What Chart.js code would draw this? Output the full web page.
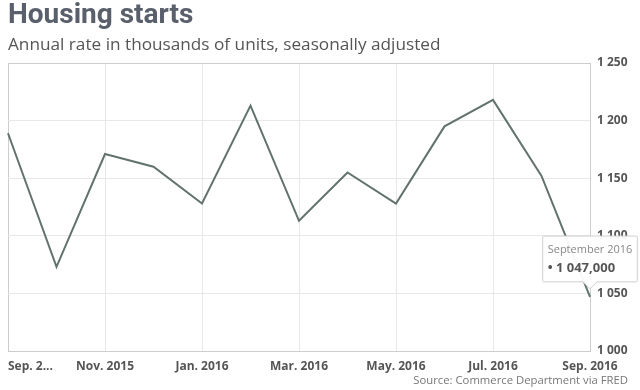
<!DOCTYPE html>
<html>
<head>
<meta charset="utf-8">
<script src="https://cdn.jsdelivr.net/npm/chart.js@4/dist/chart.umd.min.js"></script>
<style>
  html, body { margin: 0; padding: 0; background: #fff; }
  #wrap { position: relative; width: 640px; height: 390px; overflow: hidden; }
  #c { position: absolute; left: 0; top: 0; }
  .title { position: absolute; left: 8px; top: -3px; font: bold 28px Roboto, "Open Sans", sans-serif; color: #59606b; white-space: nowrap; }
  .sub { position: absolute; left: 8px; top: 32px; font: 17.2px "Open Sans", sans-serif; color: #555; white-space: nowrap; }
  .src { position: absolute; right: 12px; top: 372px; font: 11.3px "Open Sans", sans-serif; color: #777; white-space: nowrap; }
</style>
</head>
<body>
<div id="wrap">
  <canvas id="c" width="640" height="390"></canvas>
  <div class="title">Housing starts</div>
  <div class="sub">Annual rate in thousands of units, seasonally adjusted</div>
  <div class="src">Source: Commerce Department via FRED</div>
</div>
<script>
const categories = ['September 2015','October 2015','November 2015','December 2015','January 2016','February 2016','March 2016','April 2016','May 2016','June 2016','July 2016','August 2016','September 2016'];
const tickLabels = ['Sep. 2...','','Nov. 2015','','Jan. 2016','','Mar. 2016','','May. 2016','','Jul. 2016','','Sep. 2016'];
const starts = [1189, 1073, 1171, 1160, 1128, 1213, 1113, 1155, 1128, 1195, 1218, 1152, 1047];
const yMin = 1000, yMax = 1250, yStep = 50;
const highlightIndex = 12;

function fmt(v) { return String(v).replace(/\B(?=(\d{3})+(?!\d))/g, ' '); }

const labelAlignFix = {
  id: 'labelAlignFix',
  beforeDraw(chart) {
    const items = chart.scales.x.getLabelItems();
    if (items.length) items[items.length - 1].options.textAlign = 'center';
  }
};

const chart = new Chart(document.getElementById('c'), {
  type: 'line',
  data: {
    labels: categories,
    datasets: [{
      data: starts,
      borderColor: '#62736f',
      borderWidth: 2,
      pointRadius: 0,
      pointHoverRadius: 0,
      tension: 0,
      fill: false
    }]
  },
  options: {
    responsive: false,
    animation: false,
    events: [],
    layout: { padding: { top: 63, left: 7, right: 0, bottom: 0 } },
    plugins: {
      legend: { display: false },
      title: { display: false },
      tooltip: {
        enabled: true,
        backgroundColor: 'rgba(255,255,255,0.94)',
        borderColor: '#cfcfcf',
        borderWidth: 1,
        cornerRadius: 1,
        titleColor: '#888',
        titleFont: { family: 'Open Sans', size: 11, weight: 'normal' },
        titleMarginBottom: 4,
        bodyColor: '#555',
        bodyFont: { family: 'Open Sans', size: 13, weight: 'bold' },
        displayColors: false,
        padding: { left: 5, right: 5, top: 7, bottom: 6 },
        caretSize: 7,
        caretPadding: 8,
        xAlign: 'center',
        yAlign: 'bottom',
        callbacks: {
          title: (items) => categories[items[0].dataIndex],
          label: (item) => '\u2022 ' + fmt(starts[item.dataIndex]) + ',000'
        }
      }
    },
    scales: {
      x: {
        type: 'category',
        offset: false,
        grid: {
          drawTicks: false,
          color: (ctx) => (ctx.index === 0 || ctx.index === categories.length - 1) ? '#cccccc' : (ctx.index % 2 === 0 ? '#e8e8e8' : 'rgba(0,0,0,0)'),
          lineWidth: 1
        },
        border: { display: true, color: '#cccccc' },
        ticks: {
          autoSkip: false,
          maxRotation: 0,
          align: 'inner',
          padding: 8,
          color: '#555',
          font: { family: 'Open Sans', size: 12, weight: 'bold' },
          callback: (v, i) => tickLabels[i]
        },
        afterFit: (s) => { s.height = 39; }
      },
      y: {
        position: 'right',
        min: yMin,
        max: yMax,
        grid: {
          drawTicks: false,
          color: (ctx) => (ctx.tick && (ctx.tick.value === yMin || ctx.tick.value === yMax)) ? '#cccccc' : '#e8e8e8'
        },
        border: { display: true, color: '#cccccc' },
        ticks: {
          stepSize: yStep,
          padding: 7,
          color: '#555',
          font: { family: 'Open Sans', size: 12, weight: 'bold' },
          callback: (v) => fmt(v)
        },
        afterFit: (s) => { s.width = 50; }
      }
    }
  },
  plugins: [labelAlignFix]
});

const meta = chart.getDatasetMeta(0);
const pt = meta.data[highlightIndex];
chart.tooltip.setActiveElements([{ datasetIndex: 0, index: highlightIndex }], { x: pt.x, y: pt.y });
chart.update();
</script>
</body>
</html>
